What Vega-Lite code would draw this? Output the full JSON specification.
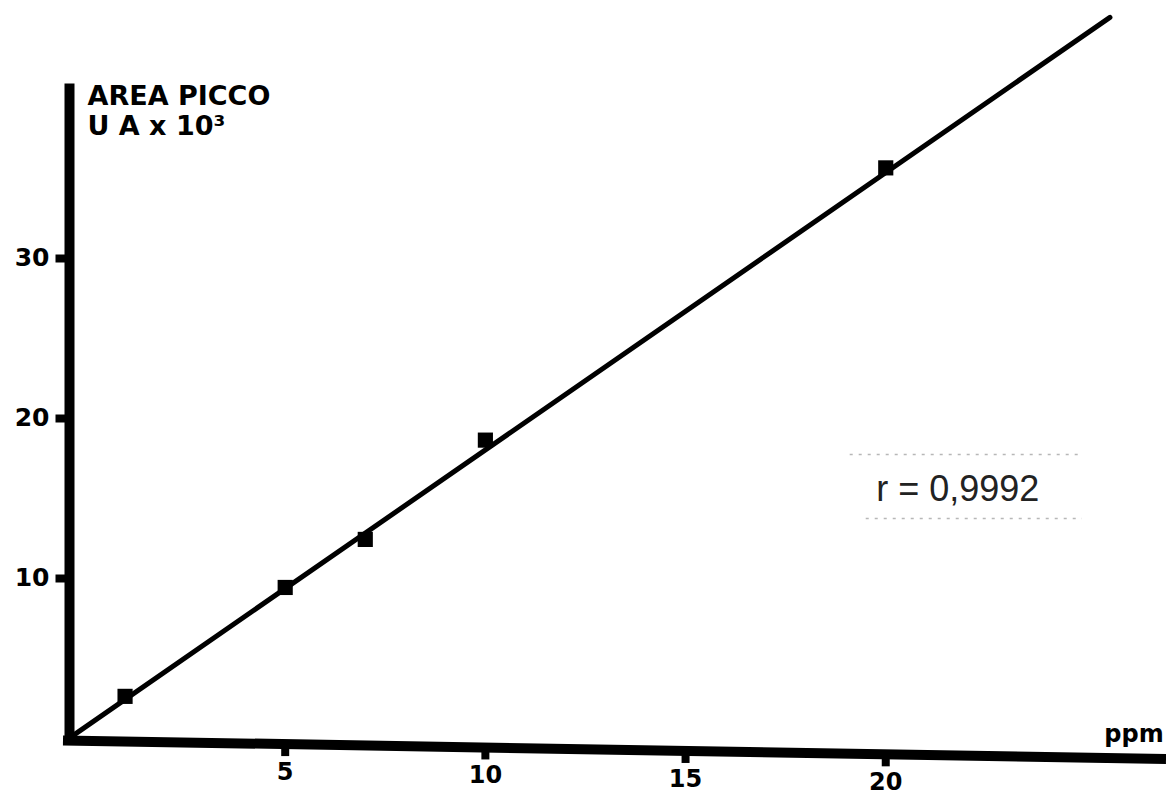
{
  "$schema": "https://vega.github.io/schema/vega-lite/v6.json",
  "width": 1097,
  "height": 657,
  "autosize": {"type": "none"},
  "padding": {"left": 69, "top": 83, "right": 0, "bottom": 55},
  "background": "white",
  "config": {"view": {"stroke": null}},
  "datasets": {
    "samples": [
      {"ppm": 1, "area": 2.6},
      {"ppm": 5, "area": 9.4},
      {"ppm": 7, "area": 12.4},
      {"ppm": 10, "area": 18.6},
      {"ppm": 20, "area": 35.6}
    ],
    "fit": [
      {"ppm": -0.32, "area": 0.12},
      {"ppm": 25.6, "area": 45.0}
    ],
    "xAxisLine": [
      {"ppm": -0.55, "area": -0.15},
      {"ppm": 27.0, "area": -1.31}
    ],
    "xAxisTicks": [
      {"ppm": 5, "area": -0.38},
      {"ppm": 10, "area": -0.59},
      {"ppm": 15, "area": -0.81},
      {"ppm": 20, "area": -1.02}
    ],
    "xAxisTitle": [
      {"ppm": 26.2, "area": -0.25, "text": "ppm"}
    ],
    "labelBox": [
      {"ppm": 19.1, "ppm2": 24.8, "area": 17.7},
      {"ppm": 19.5, "ppm2": 24.9, "area": 13.7}
    ],
    "annotation": [
      {"ppm": 21.8, "area": 15.5, "text": "r = 0,9992"}
    ]
  },
  "encoding": {
    "x": {
      "field": "ppm",
      "type": "quantitative",
      "scale": {"domain": [-0.4, 27], "nice": false, "zero": false},
      "axis": null
    },
    "y": {
      "field": "area",
      "type": "quantitative",
      "scale": {"domain": [-0.125, 40.9], "nice": false, "zero": false},
      "axis": {
        "values": [10, 20, 30],
        "grid": false,
        "title": ["AREA PICCO", "U A x 10³"],
        "titleAngle": 0,
        "titleAlign": "left",
        "titleBaseline": "top",
        "titleX": 18,
        "titleY": 0,
        "titleFont": "DejaVu Sans",
        "titleFontSize": 27,
        "titleFontWeight": "bold",
        "titleColor": "black",
        "titleLineHeight": 30,
        "domainWidth": 10,
        "domainColor": "black",
        "tickSize": 14,
        "tickWidth": 8,
        "tickColor": "black",
        "labelFont": "DejaVu Sans",
        "labelFontSize": 25,
        "labelFontWeight": "bold",
        "labelColor": "black",
        "labelPadding": 6
      }
    }
  },
  "layer": [
    {
      "data": {"name": "labelBox"},
      "mark": {"type": "rule", "color": "#999999", "strokeWidth": 1.5, "strokeDash": [3, 6], "opacity": 0.7, "clip": false},
      "encoding": {"x2": {"field": "ppm2"}}
    },
    {
      "data": {"name": "annotation"},
      "mark": {"type": "text", "font": "Liberation Sans", "fontSize": 36, "color": "#222222", "align": "center", "baseline": "middle"},
      "encoding": {"text": {"field": "text"}}
    },
    {
      "data": {"name": "fit"},
      "mark": {"type": "line", "color": "black", "strokeWidth": 5, "strokeCap": "round", "clip": false}
    },
    {
      "data": {"name": "samples"},
      "mark": {"type": "square", "color": "black", "filled": true, "opacity": 1, "size": 230}
    },
    {
      "data": {"name": "xAxisLine"},
      "mark": {"type": "line", "color": "black", "strokeWidth": 10, "clip": false}
    },
    {
      "data": {"name": "xAxisTicks"},
      "mark": {"type": "square", "color": "black", "filled": true, "opacity": 1, "size": 64, "yOffset": 8, "clip": false}
    },
    {
      "data": {"name": "xAxisTicks"},
      "mark": {"type": "text", "font": "DejaVu Sans", "fontSize": 24, "fontWeight": "bold", "color": "black", "align": "center", "baseline": "middle", "dy": 29, "clip": false},
      "encoding": {"text": {"field": "ppm", "type": "quantitative", "format": "d"}}
    },
    {
      "data": {"name": "xAxisTitle"},
      "mark": {"type": "text", "font": "DejaVu Sans", "fontSize": 24, "fontWeight": "bold", "color": "black", "align": "center", "baseline": "alphabetic", "clip": false},
      "encoding": {"text": {"field": "text"}}
    }
  ]
}
